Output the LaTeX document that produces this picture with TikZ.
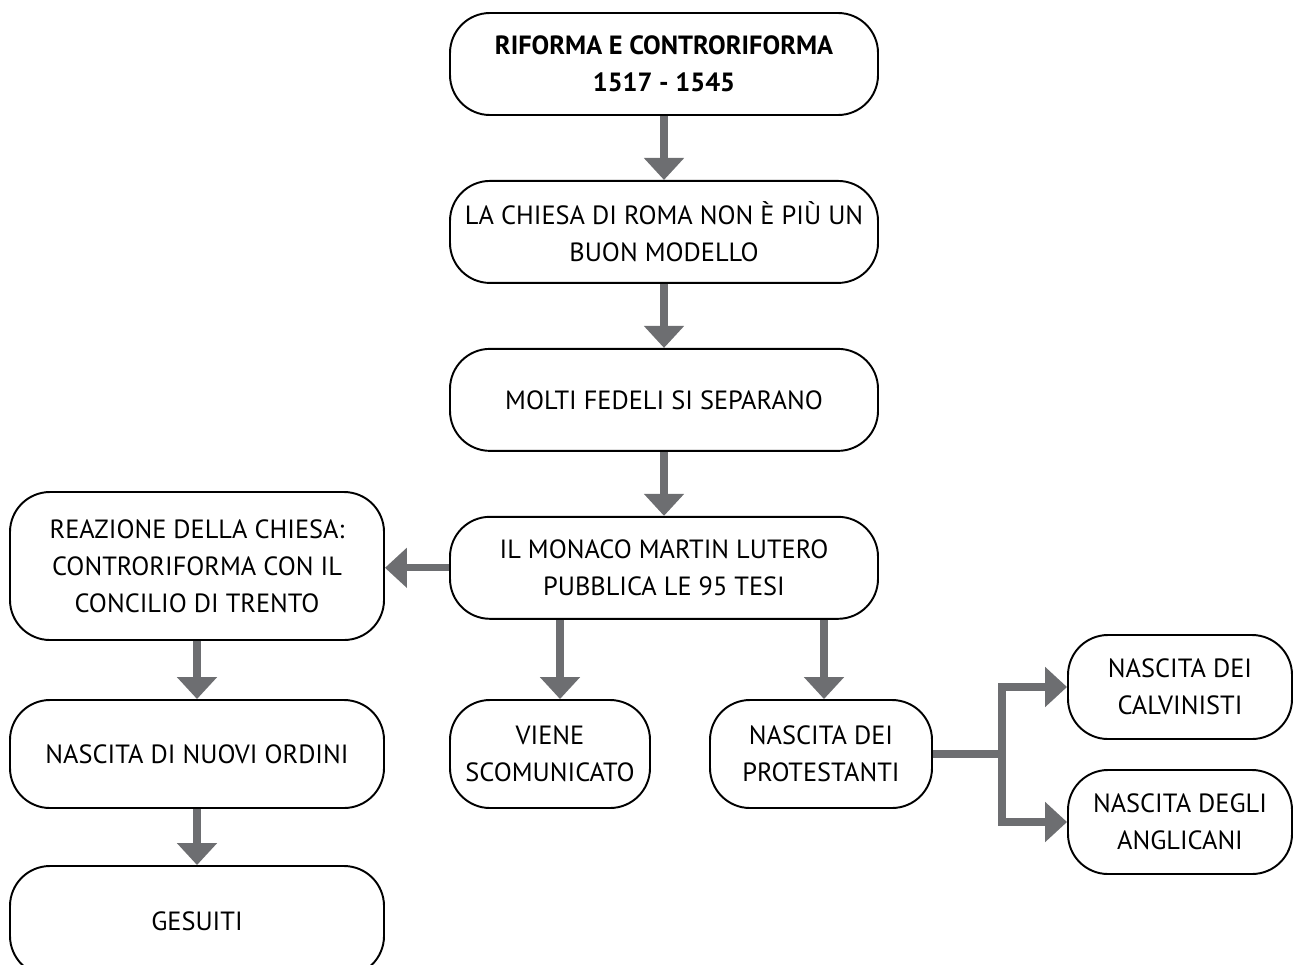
\documentclass[tikz,border=0pt]{standalone}
\usepackage{fontspec}
\setmainfont{PT Sans}
\usetikzlibrary{arrows.meta,positioning}
\definecolor{arrowgray}{HTML}{6D6E71}

\begin{document}
\begin{tikzpicture}[node distance=1.28cm,
    box/.style={draw,line width=1.1pt,rounded corners=0.8cm,align=center,
        font=\fontsize{15}{21}\selectfont,minimum height=2.04cm,inner sep=2pt},
    wide/.style={box,minimum width=8.56cm},
    title/.style={wide,font=\fontsize{15}{21}\selectfont\bfseries},
    side/.style={box,minimum width=7.48cm,minimum height=2.16cm},
    small/.style={box,minimum height=2.16cm},
    arr/.style={-{Triangle[length=0.44cm,width=0.78cm]},draw=arrowgray,line width=4.2pt}]

  \useasboundingbox (0,0) rectangle (25.9,-19.28);

  % main column
  \node[title] (riforma) at (13.28,-1.28) {RIFORMA E CONTRORIFORMA\\1517 - 1545};
  \node[wide] (chiesa) [below=of riforma] {LA CHIESA DI ROMA NON È PIÙ UN\\BUON MODELLO};
  \node[wide] (fedeli) [below=of chiesa] {MOLTI FEDELI SI SEPARANO};
  \node[wide] (lutero) [below=of fedeli] {IL MONACO MARTIN LUTERO\\PUBBLICA LE 95 TESI};

  % left column
  \node[side,minimum height=2.96cm] (reazione) at (3.94,-11.32) {REAZIONE DELLA CHIESA:\\CONTRORIFORMA CON IL\\CONCILIO DI TRENTO};
  \node[side] (ordini) at (3.94,-15.08) {NASCITA DI NUOVI ORDINI};
  \node[side,minimum height=2.2cm] (gesuiti) at (3.94,-18.42) {GESUITI};

  % lower row
  \node[small,minimum width=4cm] (scomunica) at (11.0,-15.08) {VIENE\\SCOMUNICATO};
  \node[small,minimum width=4.44cm] (protestanti) at (16.42,-15.08) {NASCITA DEI\\PROTESTANTI};
  \node[small,minimum width=4.48cm,minimum height=2.08cm] (calvinisti) at (23.6,-13.74) {NASCITA DEI\\CALVINISTI};
  \node[small,minimum width=4.48cm,minimum height=2.08cm] (anglicani) at (23.6,-16.44) {NASCITA DEGLI\\ANGLICANI};
  \coordinate[right=1.38cm of protestanti.east] (bivio);

  \draw[arr] (riforma) -- (chiesa);
  \draw[arr] (chiesa) -- (fedeli);
  \draw[arr] (fedeli) -- (lutero);
  \draw[arr] (lutero.west) -- (lutero.west -| reazione.east);
  \draw[arr] (reazione) -- (ordini);
  \draw[arr] (ordini) -- (gesuiti);
  \draw[arr] ([xshift=-2.08cm]lutero.south) -- ([xshift=-2.08cm]lutero.south |- scomunica.north);
  \draw[arr] ([xshift=3.2cm]lutero.south) -- ([xshift=3.2cm]lutero.south |- protestanti.north);
  \draw[arr] (protestanti.east) -- (bivio) |- (calvinisti.west);
  \draw[arr] (bivio) |- (anglicani.west);

\end{tikzpicture}
\end{document}
